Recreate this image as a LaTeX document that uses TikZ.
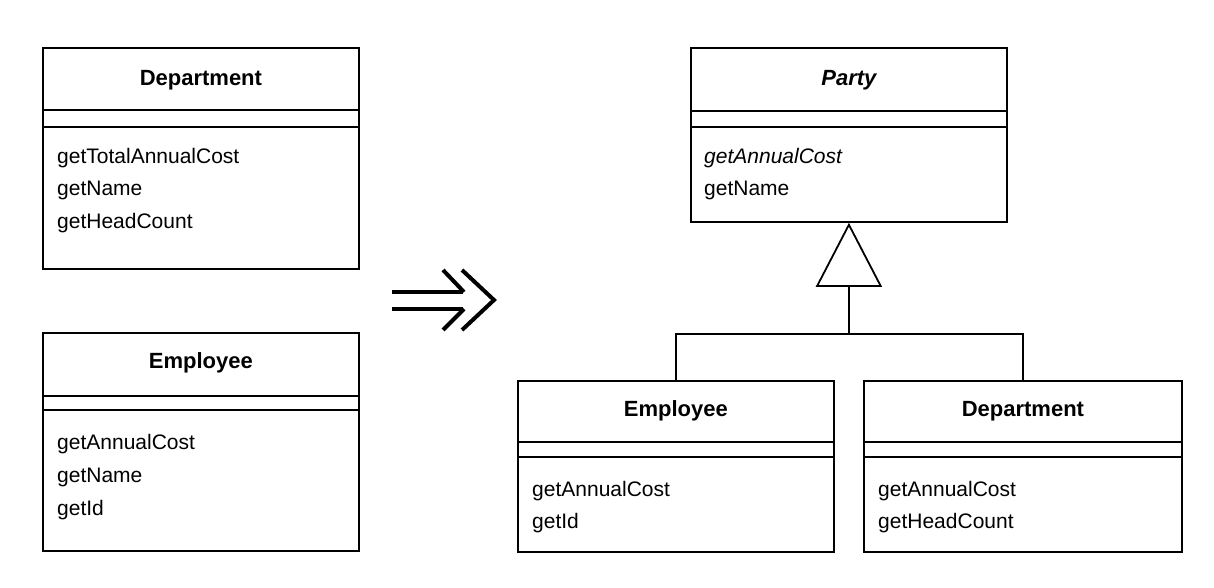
\documentclass[tikz,border=0pt]{standalone}
\usepackage{fontspec}
\setmainfont{Liberation Sans}
\usetikzlibrary{calc,arrows.meta}

\tikzset{
  classbox/.style={draw, line width=1.8pt, anchor=north west, inner sep=0pt},
  sep/.style={line width=1.8pt},
  classname/.style={font=\fontsize{22}{26}\selectfont\bfseries},
  op/.style={anchor=base west, inner sep=0pt, font=\fontsize{21}{26}\selectfont},
  inherit/.style={line width=1.8pt, -{Triangle[open, length=64pt, width=66pt, line width=1.8pt]}},
  refactor/.style={line width=4pt}
}

\begin{document}
\begin{tikzpicture}[x=1pt, y=-1pt]
\useasboundingbox (0,0) rectangle (1214,588);

% before: two separate classes
\node[classbox, minimum width=316pt, minimum height=221pt] (depL) at (42,47) {};
\draw[sep] ($(depL.north west)+(0,63)$) -- ($(depL.north east)+(0,63)$);
\draw[sep] ($(depL.north west)+(0,80)$) -- ($(depL.north east)+(0,80)$);
\node[classname] (depLname) at ($(depL.north)+(0,33)$) {Department};
\foreach \t [count=\i] in {getTotalAnnualCost, getName, getHeadCount}
  \node[op] (depL-\i) at (57, 132+32*\i) {\t};

\node[classbox, minimum width=316pt, minimum height=218pt] (empL) at (42,332) {};
\draw[sep] ($(empL.north west)+(0,64)$) -- ($(empL.north east)+(0,64)$);
\draw[sep] ($(empL.north west)+(0,78)$) -- ($(empL.north east)+(0,78)$);
\node[classname] (empLname) at ($(empL.north)+(0,31)$) {Employee};
\foreach \t [count=\i] in {getAnnualCost, getName, getId}
  \node[op] (empL-\i) at (57, 416+33*\i) {\t};

% the refactoring arrow
\draw[refactor] (392,292) -- (463,292);
\draw[refactor] (392,309) -- (463,309);
\draw[refactor] (443,270) -- (464,292);
\draw[refactor] (443,330) -- (464,309);
\draw[refactor, line join=miter] (462,270) -- (494,300) -- (462,330);

% after: common superclass
\node[classbox, minimum width=316pt, minimum height=174pt] (party) at (690,47) {};
\draw[sep] ($(party.north west)+(0,64)$) -- ($(party.north east)+(0,64)$);
\draw[sep] ($(party.north west)+(0,80)$) -- ($(party.north east)+(0,80)$);
\node[classname, font=\fontsize{22}{26}\selectfont\bfseries\itshape] (partyname) at ($(party.north)+(0,33)$) {Party};
\node[op, font=\fontsize{21}{26}\selectfont\itshape] (party-1) at (704,164) {getAnnualCost};
\node[op] (party-2) at (704,196) {getName};

\node[classbox, minimum width=316pt, minimum height=171pt] (empR) at (517,380) {};
\draw[sep] ($(empR.north west)+(0,62)$) -- ($(empR.north east)+(0,62)$);
\draw[sep] ($(empR.north west)+(0,77)$) -- ($(empR.north east)+(0,77)$);
\node[classname] (empRname) at ($(empR.north)+(0,31)$) {Employee};
\foreach \t [count=\i] in {getAnnualCost, getId}
  \node[op] (empR-\i) at (532, 464+32*\i) {\t};

\node[classbox, minimum width=318pt, minimum height=171pt] (depR) at (863,380) {};
\draw[sep] ($(depR.north west)+(0,62)$) -- ($(depR.north east)+(0,62)$);
\draw[sep] ($(depR.north west)+(0,77)$) -- ($(depR.north east)+(0,77)$);
\node[classname] (depRname) at ($(depR.north)+(0,31)$) {Department};
\foreach \t [count=\i] in {getAnnualCost, getHeadCount}
  \node[op] (depR-\i) at (878, 464+32*\i) {\t};

% generalization
\coordinate (bus) at ($(party.south)+(0,111)$);
\draw[sep] (empR.north) |- (bus) -| (depR.north);
\draw[inherit] (bus) -- (party.south);
\end{tikzpicture}
\end{document}
